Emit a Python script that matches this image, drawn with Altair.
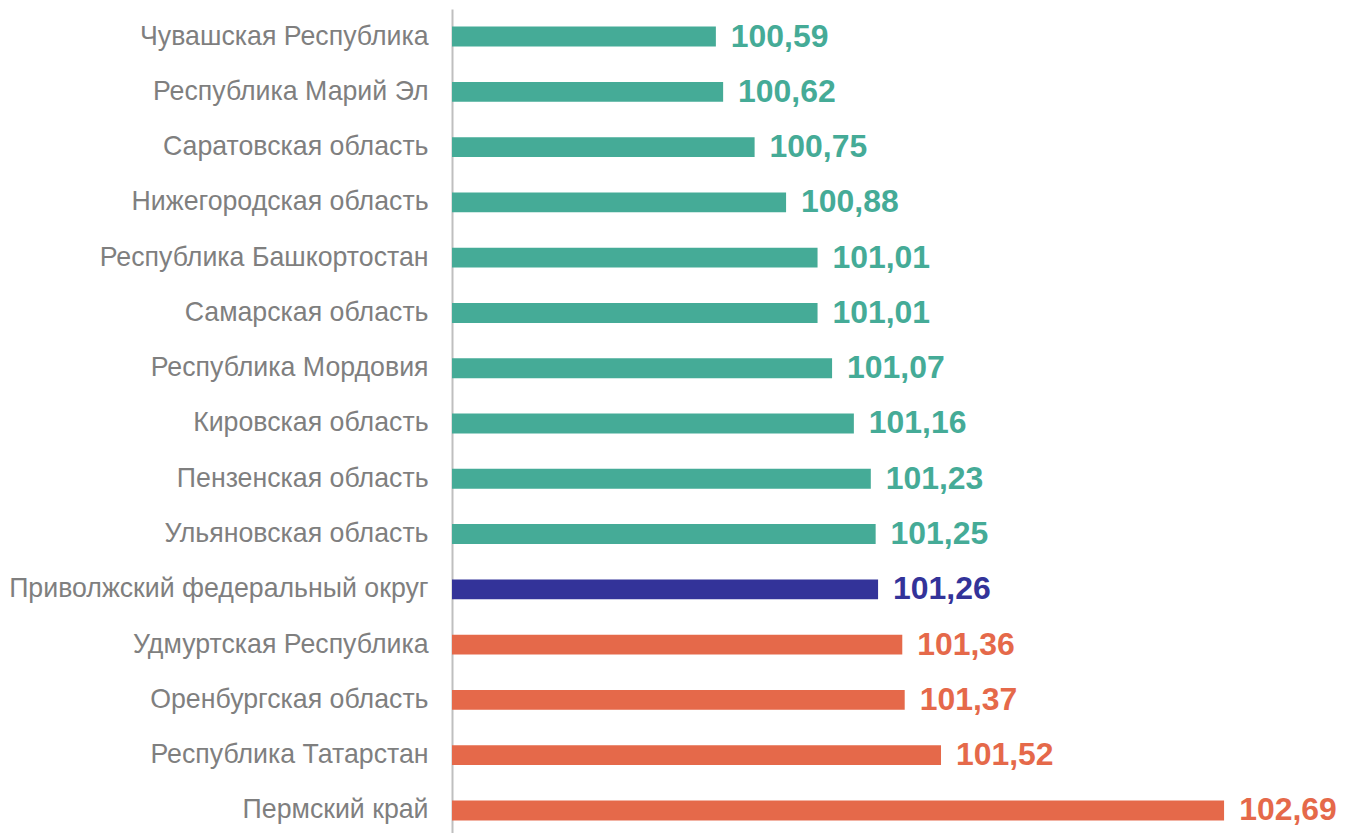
import altair as alt
import pandas as pd

regions = [
    "Чувашская Республика",
    "Республика Марий Эл",
    "Саратовская область",
    "Нижегородская область",
    "Республика Башкортостан",
    "Самарская область",
    "Республика Мордовия",
    "Кировская область",
    "Пензенская область",
    "Ульяновская область",
    "Приволжский федеральный округ",
    "Удмуртская Республика",
    "Оренбургская область",
    "Республика Татарстан",
    "Пермский край",
]
values = [100.59, 100.62, 100.75, 100.88, 101.01, 101.01, 101.07, 101.16,
          101.23, 101.25, 101.26, 101.36, 101.37, 101.52, 102.69]
groups = ["below"] * 10 + ["district"] + ["above"] * 4
labels = [f"{v:.2f}".replace(".", ",") for v in values]

df = pd.DataFrame({"region": regions, "value": values, "group": groups, "label": labels})

color_scale = alt.Scale(domain=["below", "district", "above"],
                        range=["#45AB97", "#333399", "#E5694A"])

y_enc = alt.Y("region:N", sort=regions, title=None,
              scale=alt.Scale(paddingInner=0.64, paddingOuter=0.32),
              axis=alt.Axis(labelFont="Liberation Sans", labelFontSize=26.8,
                            labelColor="#7F7F7F", ticks=False, labelPadding=24,
                            domainColor="#BFBFBF", domainWidth=2, labelLimit=600))
x_enc = alt.X("value:Q", title=None, axis=None,
              scale=alt.Scale(domain=[99.5, 102.69], zero=False, nice=False))

bars = alt.Chart(df).mark_bar(clip=True).encode(
    y=y_enc, x=x_enc,
    color=alt.Color("group:N", scale=color_scale, legend=None),
)

text = alt.Chart(df).mark_text(align="left", baseline="middle", dx=15,
                               font="Liberation Sans", fontSize=32,
                               fontWeight="bold").encode(
    y=alt.Y("region:N", sort=regions),
    x=alt.X("value:Q"),
    text="label:N",
    color=alt.Color("group:N", scale=color_scale, legend=None),
)

chart = (bars + text).properties(
    width=774, height=831, padding=0, background="white"
).configure_view(strokeWidth=0, stroke="transparent")

chart.save("out.html", embed_options={"renderer": "svg", "actions": False})
